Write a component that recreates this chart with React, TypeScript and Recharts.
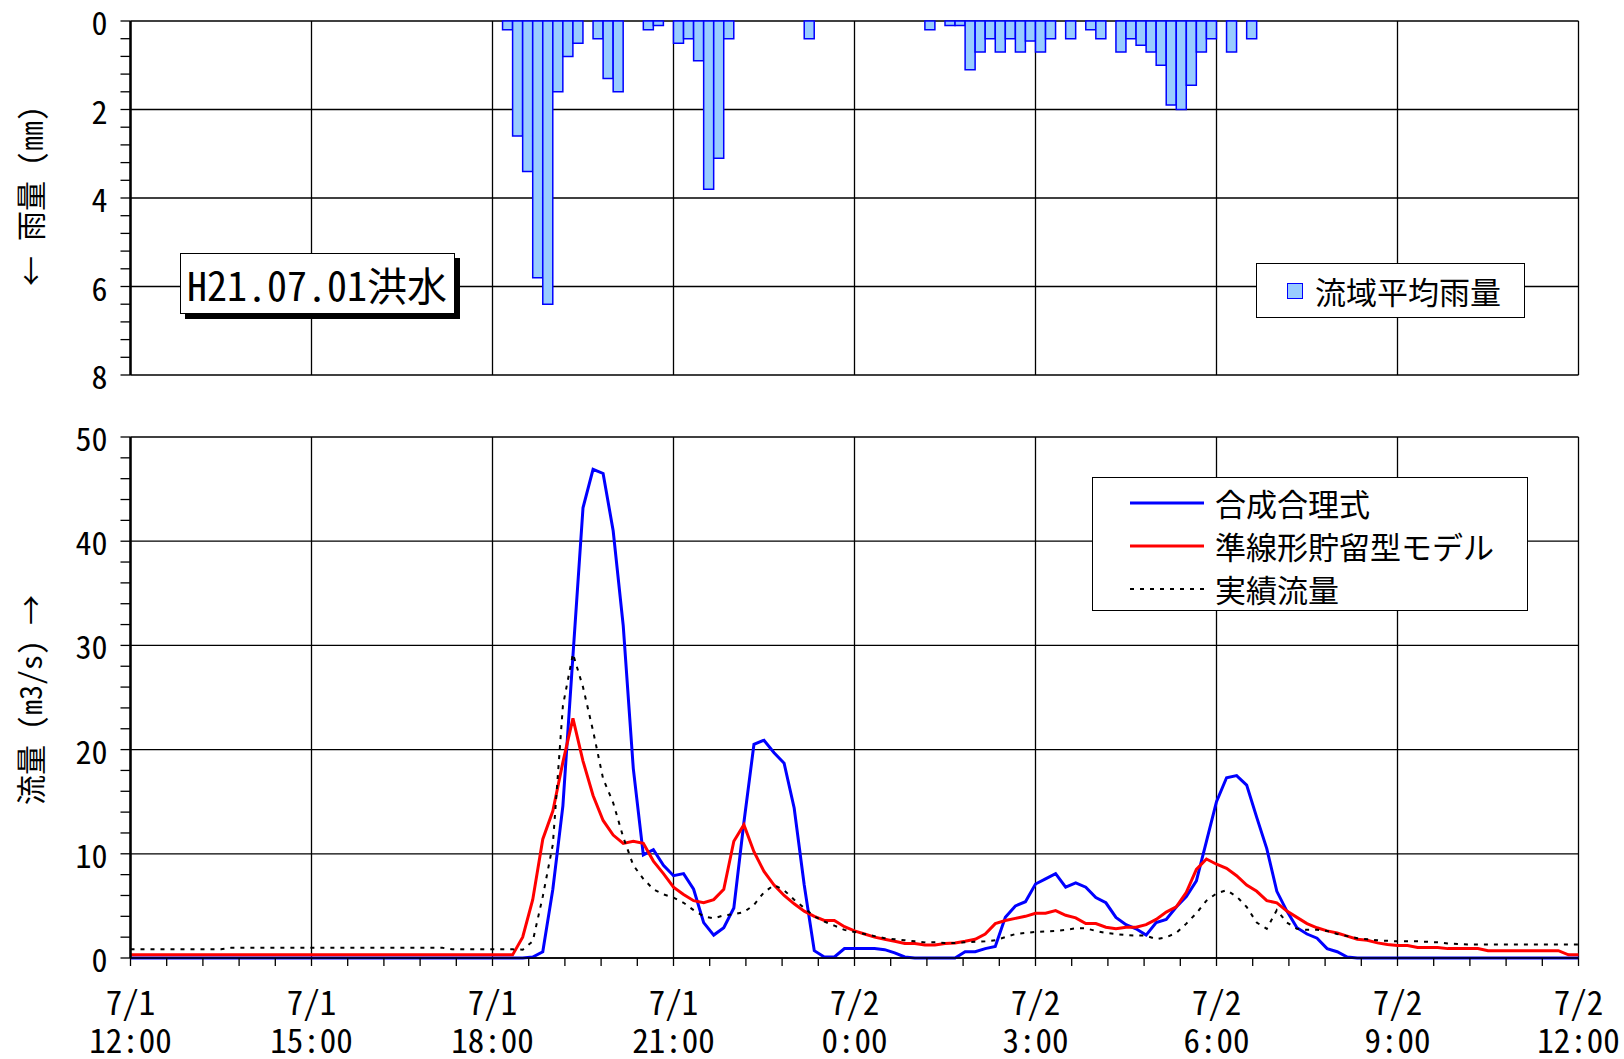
import React from 'react';
import { ComposedChart, Bar, Line, XAxis, YAxis, CartesianGrid, Legend } from 'recharts';

const FONT = '"Noto Sans CJK JP", "Noto Sans", sans-serif';
const HW = '"hwid"';

// ---- rainfall (10-min, start of interval in minutes after 7/1 12:00) ----
const rainStart = [
  370, 380, 390, 400, 410, 420, 430, 440, 460, 470, 480, 510, 520,
  540, 550, 560, 570, 580, 590, 670,
  790, 810, 820, 830, 840, 850, 860, 870, 880, 890, 900, 910, 930, 950, 960,
  980, 990, 1000, 1010, 1020, 1030, 1040, 1050, 1060, 1070, 1090, 1110,
];
const rainValues = [
  0.2, 2.6, 3.4, 5.8, 6.4, 1.6, 0.8, 0.5, 0.4, 1.3, 1.6, 0.2, 0.1,
  0.5, 0.4, 0.9, 3.8, 3.1, 0.4, 0.4,
  0.2, 0.1, 0.1, 1.1, 0.7, 0.4, 0.7, 0.4, 0.7, 0.45, 0.7, 0.4, 0.4, 0.2, 0.4,
  0.7, 0.4, 0.55, 0.7, 1.0, 1.9, 2.0, 1.45, 0.7, 0.4, 0.7, 0.4,
];

// ---- discharge, every 10 min from 7/1 12:00 to 7/2 12:00 ----
const rationalFlow = [
  0, 0, 0, 0, 0, 0, // 12
  0, 0, 0, 0, 0, 0, // 13
  0, 0, 0, 0, 0, 0, // 14
  0, 0, 0, 0, 0, 0, // 15
  0, 0, 0, 0, 0, 0, // 16
  0, 0, 0, 0, 0, 0, // 17
  0, 0, 0, 0, 0.1, 0.6, // 18
  6.6, 14.6, 29.0, 43.2, 46.9, 46.5, // 19
  41.0, 31.9, 18.2, 9.9, 10.4, 8.9, // 20
  7.9, 8.1, 6.6, 3.4, 2.2, 2.9, // 21
  4.8, 13.0, 20.5, 20.9, 19.7, 18.7, // 22
  14.4, 7.0, 0.7, 0.1, 0.1, 0.9, // 23
  0.9, 0.9, 0.9, 0.8, 0.5, 0.1, // 0
  0, 0, 0, 0, 0, 0.6, // 1
  0.6, 0.9, 1.1, 3.9, 5.0, 5.4, // 2
  7.1, 7.6, 8.1, 6.8, 7.2, 6.8, // 3
  5.8, 5.3, 3.9, 3.2, 2.8, 2.2, // 4
  3.4, 3.7, 4.9, 5.9, 7.4, 11.2, // 5
  15.0, 17.3, 17.5, 16.6, 13.5, 10.5, // 6
  6.4, 4.5, 2.9, 2.3, 1.9, 0.9, // 7
  0.6, 0.1, 0, 0, 0, 0, // 8
  0, 0, 0, 0, 0, 0, // 9
  0, 0, 0, 0, 0, 0, // 10
  0, 0, 0, 0, 0, 0, // 11
  0,
];
const storageFlow = [
  0.3, 0.3, 0.3, 0.3, 0.3, 0.3,
  0.3, 0.3, 0.3, 0.3, 0.3, 0.3,
  0.3, 0.3, 0.3, 0.3, 0.3, 0.3,
  0.3, 0.3, 0.3, 0.3, 0.3, 0.3,
  0.3, 0.3, 0.3, 0.3, 0.3, 0.3,
  0.3, 0.3, 0.3, 0.3, 0.3, 0.3,
  0.3, 0.3, 0.3, 2.0, 5.6, 11.4, // 18
  14.1, 18.8, 23.0, 18.9, 15.6, 13.2, // 19
  11.8, 11.0, 11.2, 11.0, 9.3, 8.1, // 20
  6.8, 6.1, 5.5, 5.3, 5.6, 6.6, // 21
  11.2, 12.8, 10.2, 8.3, 7.0, 6.0, // 22
  5.2, 4.5, 4.0, 3.6, 3.6, 3.0, // 23
  2.6, 2.3, 2.0, 1.8, 1.6, 1.4, // 0
  1.4, 1.25, 1.25, 1.4, 1.45, 1.6, // 1
  1.8, 2.3, 3.3, 3.6, 3.8, 4.0, // 2
  4.3, 4.3, 4.55, 4.1, 3.85, 3.3, // 3
  3.3, 2.95, 2.8, 2.95, 2.95, 3.2, // 4
  3.7, 4.4, 4.9, 6.3, 8.5, 9.5, // 5
  9.0, 8.6, 7.9, 7.0, 6.4, 5.5, // 6
  5.3, 4.5, 3.9, 3.3, 2.9, 2.6, // 7
  2.4, 2.1, 1.8, 1.7, 1.45, 1.3, // 8
  1.2, 1.2, 1.0, 1.0, 1.0, 0.9, // 9
  0.9, 0.9, 0.9, 0.7, 0.7, 0.7, // 10
  0.7, 0.7, 0.7, 0.7, 0.7, 0.3, // 11
  0.3,
];
const observedFlow = [
  0.83, 0.83, 0.83, 0.83, 0.83, 0.83,
  0.83, 0.83, 0.83, 0.83, 0.98, 0.98,
  0.98, 0.98, 0.98, 0.98, 0.98, 0.98,
  0.98, 0.98, 0.98, 0.98, 0.98, 0.98,
  0.98, 0.98, 0.98, 0.98, 0.98, 0.98,
  0.98, 0.98, 0.83, 0.83, 0.83, 0.83,
  0.83, 0.83, 0.83, 0.8, 1.6, 5.9, // 18
  10.9, 24.2, 29.2, 26.0, 21.8, 17.2, // 19
  14.9, 11.6, 8.9, 7.6, 6.6, 6.1, // 20
  5.8, 5.3, 4.6, 4.0, 3.8, 4.1, // 21
  4.2, 4.4, 5.1, 6.3, 7.0, 6.5, // 22
  5.6, 4.8, 4.0, 3.5, 3.1, 2.7, // 23
  2.5, 2.3, 2.1, 1.9, 1.8, 1.7, // 0
  1.6, 1.5, 1.5, 1.45, 1.45, 1.5, // 1
  1.55, 1.6, 1.7, 2.0, 2.3, 2.4, // 2
  2.5, 2.55, 2.6, 2.7, 2.85, 2.85, // 3
  2.6, 2.4, 2.3, 2.2, 2.15, 2.15, // 4
  1.8, 2.0, 2.4, 3.3, 4.3, 5.5, // 5
  6.2, 6.5, 5.9, 4.9, 3.4, 2.8, // 6
  4.6, 3.4, 2.8, 2.7, 2.7, 2.6, // 7
  2.3, 2.1, 1.9, 1.8, 1.7, 1.65, // 8
  1.6, 1.6, 1.6, 1.55, 1.5, 1.4, // 9
  1.35, 1.3, 1.3, 1.3, 1.3, 1.3, // 10
  1.3, 1.3, 1.3, 1.3, 1.3, 1.3, // 11
  1.3,
];

// ---- axis labels ----
const majorTimes = [0, 180, 360, 540, 720, 900, 1080, 1260, 1440];
const tickDates = ['7/1', '7/1', '7/1', '7/1', '7/2', '7/2', '7/2', '7/2', '7/2'];
const tickTimes = ['12:00', '15:00', '18:00', '21:00', '0:00', '3:00', '6:00', '9:00', '12:00'];
const minorTimes = Array.from({ length: 41 }, (_, i) => i * 36);
const rainMajor = [0, 2, 4, 6, 8];
const rainTicks = Array.from({ length: 21 }, (_, i) => i * 0.4);
const flowMajor = [0, 10, 20, 30, 40, 50];
const flowTicks = Array.from({ length: 26 }, (_, i) => i * 2);

const seriesNames = ['合成合理式', '準線形貯留型モデル', '実績流量'];
const rainName = '流域平均雨量';
const eventLabel = 'H21.07.01洪水';

const rainData = rainStart.map((s, i) => ({ t: s + 5, rain: rainValues[i] }));
const flowData = rationalFlow.map((v, i) => ({
  t: i * 10,
  rational: v,
  storage: storageFlow[i],
  observed: observedFlow[i],
}));

const textStyle: React.CSSProperties = { fontFeatureSettings: HW };

const YTick = (majorStep: number) => (props: any) => {
  const { x, y, payload } = props;
  const v = payload.value;
  const isMajor = Math.abs(v / majorStep - Math.round(v / majorStep)) < 1e-6;
  return (
    <g>
      <line x1={x - 10} x2={x} y1={y} y2={y} stroke="#000" strokeWidth={1.3} />
      {isMajor && (
        <text x={x - 23} y={y} textAnchor="end" dominantBaseline="central" fontSize={32}
          fontFamily={FONT} fill="#000" style={textStyle}>
          {Math.round(v)}
        </text>
      )}
    </g>
  );
};

const XTick = (props: any) => {
  const { x, y, payload } = props;
  const idx = majorTimes.indexOf(Math.round(payload.value));
  return (
    <g>
      <line x1={x} x2={x} y1={y} y2={y + 8} stroke="#000" strokeWidth={1.3} />
      {idx >= 0 && (
        <text x={x} y={y + 57} textAnchor="middle" fontSize={33} fontFamily={FONT} fill="#000" style={textStyle}>
          {tickDates[idx]}
        </text>
      )}
      {idx >= 0 && (
        <text x={x} y={y + 95} textAnchor="middle" fontSize={33} fontFamily={FONT} fill="#000" style={textStyle}>
          {tickTimes[idx]}
        </text>
      )}
    </g>
  );
};

const RainLegend = () => (
  <div style={{
    width: 269, height: 55, boxSizing: 'border-box', border: '1.5px solid #000', background: '#fff',
    display: 'flex', alignItems: 'center', fontFamily: FONT, fontSize: 31, ...textStyle,
  }}>
    <div style={{ width: 16, height: 16, boxSizing: 'border-box', marginLeft: 30, marginRight: 12,
      background: '#99CCFF', border: '1.5px solid #0000FF' }} />
    <span style={{ lineHeight: 1 }}>{rainName}</span>
  </div>
);

const lineStyles = [
  { stroke: '#0000FF', width: 3, dash: undefined as string | undefined },
  { stroke: '#FF0000', width: 3, dash: undefined as string | undefined },
  { stroke: '#000000', width: 2, dash: '4 6' },
];

const FlowLegend = () => (
  <div style={{
    width: 436, height: 134, boxSizing: 'border-box', border: '1.5px solid #000', background: '#fff',
    position: 'relative', fontFamily: FONT, fontSize: 31, ...textStyle,
  }}>
    {seriesNames.map((n, i) => (
      <div key={n} style={{ position: 'absolute', left: 37, top: 3 + 43 * i, height: 43,
        display: 'flex', alignItems: 'center', whiteSpace: 'nowrap' }}>
        <svg width={74} height={6} style={{ display: 'block' }}>
          <line x1={0} x2={74} y1={3} y2={3} stroke={lineStyles[i].stroke}
            strokeWidth={lineStyles[i].width} strokeDasharray={lineStyles[i].dash} />
        </svg>
        <span style={{ marginLeft: 11, lineHeight: 1 }}>{n}</span>
      </div>
    ))}
  </div>
);

export default function App() {
  return (
    <div style={{ position: 'absolute', left: 0, top: 0, width: 1624, height: 1059, background: '#fff',
      fontFamily: FONT, overflow: 'hidden' }}>
      {/* rainfall panel */}
      <div style={{ position: 'absolute', left: 0, top: 0 }}>
        <ComposedChart width={1624} height={400} data={rainData}
          margin={{ top: 21, right: 45.5, bottom: 25, left: 70.5 }}>
          <CartesianGrid horizontalValues={rainMajor} verticalValues={majorTimes} stroke="#000" strokeWidth={1.3} />
          <XAxis type="number" dataKey="t" domain={[0, 1440]} hide />
          <YAxis type="number" domain={[0, 8]} reversed ticks={rainTicks} interval={0} width={60}
            tick={YTick(2)} tickSize={0} tickMargin={0} tickLine={false}
            axisLine={{ stroke: '#000', strokeWidth: 2.5 }} />
          <Bar dataKey="rain" name={rainName} barSize={10} fill="#99CCFF" stroke="#0000FF"
            strokeWidth={1.5} isAnimationActive={false} />
          <Legend layout="horizontal" verticalAlign="middle" align="center" content={<RainLegend />}
            wrapperStyle={{ left: 1256, top: 263, width: 269, height: 55 }} />
        </ComposedChart>
      </div>

      {/* discharge panel */}
      <div style={{ position: 'absolute', left: 0, top: 400 }}>
        <ComposedChart width={1624} height={659} data={flowData}
          margin={{ top: 37, right: 45.5, bottom: 0, left: 70.5 }}>
          <CartesianGrid horizontalValues={flowMajor} verticalValues={majorTimes} stroke="#000" strokeWidth={1.3} />
          <XAxis type="number" dataKey="t" domain={[0, 1440]} ticks={minorTimes} interval={0} height={101}
            tick={XTick} tickSize={0} tickMargin={0} tickLine={false}
            axisLine={{ stroke: '#000', strokeWidth: 1.5 }} />
          <YAxis type="number" domain={[0, 50]} ticks={flowTicks} interval={0} width={60}
            tick={YTick(10)} tickSize={0} tickMargin={0} tickLine={false}
            axisLine={{ stroke: '#000', strokeWidth: 2.5 }} />
          <Line type="linear" dataKey="rational" name={seriesNames[0]} stroke="#0000FF" strokeWidth={3}
            dot={false} isAnimationActive={false} />
          <Line type="linear" dataKey="storage" name={seriesNames[1]} stroke="#FF0000" strokeWidth={3}
            dot={false} isAnimationActive={false} />
          <Line type="linear" dataKey="observed" name={seriesNames[2]} stroke="#000" strokeWidth={2}
            strokeDasharray="4 6" dot={false} isAnimationActive={false} />
          <Legend layout="horizontal" verticalAlign="middle" align="center" content={<FlowLegend />}
            wrapperStyle={{ left: 1092, top: 77, width: 436, height: 134 }} />
        </ComposedChart>
      </div>

      {/* event label */}
      <div style={{ position: 'absolute', left: 180, top: 253, width: 275, height: 61, boxSizing: 'border-box',
        border: '1.5px solid #000', background: '#fff', boxShadow: '5px 5px 0 #000',
        display: 'flex', alignItems: 'center', paddingLeft: 6, fontSize: 40, ...textStyle }}>
        <span style={{ lineHeight: 1, whiteSpace: 'nowrap' }}>{eventLabel}</span>
      </div>

      {/* axis titles */}
      <div style={{ position: 'absolute', left: 29, top: 196, transform: 'translate(-50%, -50%) rotate(-90deg)',
        whiteSpace: 'nowrap', fontSize: 30, lineHeight: 1, ...textStyle }}>
        ← 雨量 (㎜)
      </div>
      <div style={{ position: 'absolute', left: 29, top: 700, transform: 'translate(-50%, -50%) rotate(-90deg)',
        whiteSpace: 'nowrap', fontSize: 30, lineHeight: 1, ...textStyle }}>
        流量 (m3/s) →
      </div>
    </div>
  );
}
